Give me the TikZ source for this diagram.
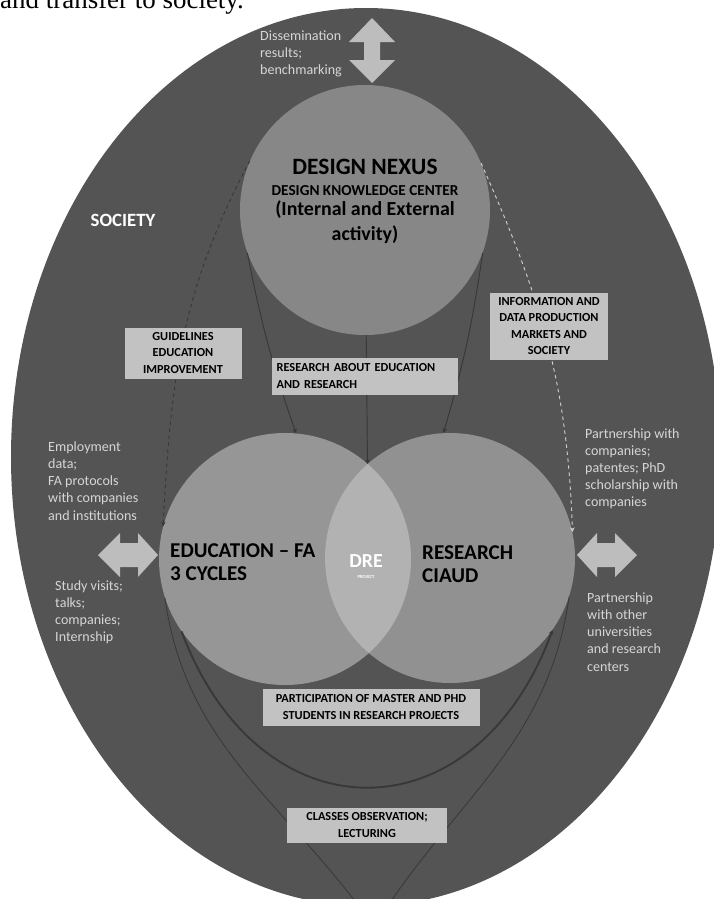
\documentclass[tikz,border=0pt]{standalone}
\usepackage{fontspec}
\setmainfont{Carlito}
\newfontfamily\bookfont{Liberation Serif}
\usetikzlibrary{arrows.meta}

\definecolor{societygray}{gray}{0.33}
\definecolor{nexusgray}{gray}{0.53}
\definecolor{edugray}{gray}{0.59}
\definecolor{resgray}{gray}{0.57}
\definecolor{lensgray}{gray}{0.70}
\definecolor{tagfill}{gray}{0.76}
\definecolor{arrowgray}{gray}{0.74}
\definecolor{notegray}{gray}{0.84}
\definecolor{linkgray}{gray}{0.22}

\begin{document}
\begin{tikzpicture}[x=0.3mm, y=-0.3mm,
    disc/.style={circle, inner sep=0pt, minimum size=75mm},
    tag/.style={fill=tagfill, inner sep=0pt, align=center, font=\bfseries\fontsize{10.5}{13.7}\selectfont},
    note/.style={text=notegray, inner sep=0pt, anchor=west, align=left, font=\fontsize{12}{14.6}\selectfont},
    head/.style={inner sep=0pt, anchor=west, align=left, font=\bfseries\fontsize{18}{19.6}\selectfont},
    link/.style={draw=linkgray, line width=0.8pt, -{Stealth[length=4pt, width=4pt]}},
    thinlink/.style={draw=linkgray, line width=0.7pt}]

\useasboundingbox (0, 0) rectangle (713, 899);
\fill[white] (0, 0) rectangle (713, 899);

\node[font=\bookfont\fontsize{23}{27}\selectfont, anchor=base west, inner sep=0pt] (intro) at (0, 8) {and transfer to society.};

\fill[societygray] (366, 457) ellipse [x radius=106.5mm, y radius=134.7mm];

\node[disc, fill=nexusgray] (nexus) at (365, 210) {};
\node[disc, fill=edugray, minimum size=75.6mm] (edu) at (285, 559) {};
\node[disc, fill=resgray] (res) at (450, 558) {};
\begin{scope}
\clip (edu.center) circle [radius=37.8mm];
\fill[lensgray] (res.center) circle [radius=37.5mm];
\end{scope}

\fill[arrowgray] (349, 42) -- (372, 18) -- (395, 42) -- (380, 42) -- (380, 60) -- (395, 60) -- (372, 83) -- (349, 60) -- (364, 60) -- (364, 42) -- cycle;
\fill[arrowgray] (98, 555) -- (120, 533) -- (120, 543) -- (138, 543) -- (138, 533) -- (158, 555) -- (138, 577) -- (138, 567) -- (120, 567) -- (120, 577) -- cycle;
\fill[arrowgray] (577, 555) -- (597, 533) -- (597, 543) -- (615, 543) -- (615, 533) -- (637, 555) -- (615, 577) -- (615, 567) -- (597, 567) -- (597, 577) -- cycle;

\node[inner sep=0pt, align=center, font=\bfseries\fontsize{17}{21}\selectfont] (nexus title) at (365, 201)
  {{\fontsize{20}{24}\selectfont DESIGN NEXUS}\\[-3pt]{\fontsize{13}{16}\selectfont DESIGN KNOWLEDGE CENTER}\\[-3.5pt](Internal and External\\activity)};
\node[head] (edu title) at (170, 562) {EDUCATION – FA\\3 CYCLES};
\node[head] (res title) at (422, 564) {RESEARCH\\CIAUD};
\node[text=white, inner sep=0pt, font=\bfseries\fontsize{17}{20}\selectfont] (dre) at (366, 561) {DRE};
\node[text=white, inner sep=0pt, font=\bfseries\fontsize{4}{5}\selectfont] (project) at (366, 577) {PROJECT};
\node[text=white, inner sep=0pt, font=\bfseries\fontsize{16}{19}\selectfont] (society) at (123, 220) {SOCIETY};

\node[note] (dissemination) at (260, 54) {Dissemination\\results;\\benchmarking};
\node[note] (employment) at (48, 481) {Employment\\data;\\FA protocols\\with companies\\and institutions};
\node[note] (visits) at (55, 612) {Study visits;\\talks;\\companies;\\Internship};
\node[note] (partners) at (585, 469) {Partnership with\\companies;\\patentes; PhD\\scholarship with\\companies};
\node[note] (universities) at (587, 632) {Partnership\\with other\\universities\\and research\\centers};

\coordinate (dre top) at (367.5, 464);
\coordinate (low) at (374, 927);
\draw[link] (nexus) -- (dre top);
\draw[link] (nexus.200) to[bend right=4] (edu.85);
\draw[link] (nexus.-20) to[bend left=4] (res.93);
\draw[link, dashed] (nexus.157) to[out=242, in=87] (edu.165);
\draw[link, draw=black!20, dashed] (nexus.22) to[out=-66, in=92] (res.12);
\draw[link, line width=1.6pt] (edu.215) .. controls +(78, 209) and +(-77, 209) .. (res.-35);
\draw[thinlink] (edu.198) to[out=-82, in=125] (low);
\draw[thinlink] (res.-18) to[out=-98, in=58] (low);

\node[tag, minimum width=35.1mm, minimum height=15.3mm] (guidelines) at (183, 353) {GUIDELINES\\EDUCATION\\IMPROVEMENT};
\node[tag, minimum width=55.8mm, minimum height=11.1mm, text width=53mm, align=left] (about) at (365, 376) {RESEARCH ABOUT EDUCATION\\AND RESEARCH};
\node[tag, minimum width=35.4mm, minimum height=20.1mm] (information) at (549, 326) {INFORMATION AND\\DATA PRODUCTION\\MARKETS AND\\SOCIETY};
\node[tag, minimum width=65.1mm, minimum height=11.1mm] (participation) at (371, 707) {PARTICIPATION OF MASTER AND PHD\\STUDENTS IN RESEARCH PROJECTS};
\node[tag, minimum width=48mm, minimum height=10.5mm] (classes) at (367, 825) {CLASSES OBSERVATION;\\LECTURING};
\end{tikzpicture}
\end{document}
